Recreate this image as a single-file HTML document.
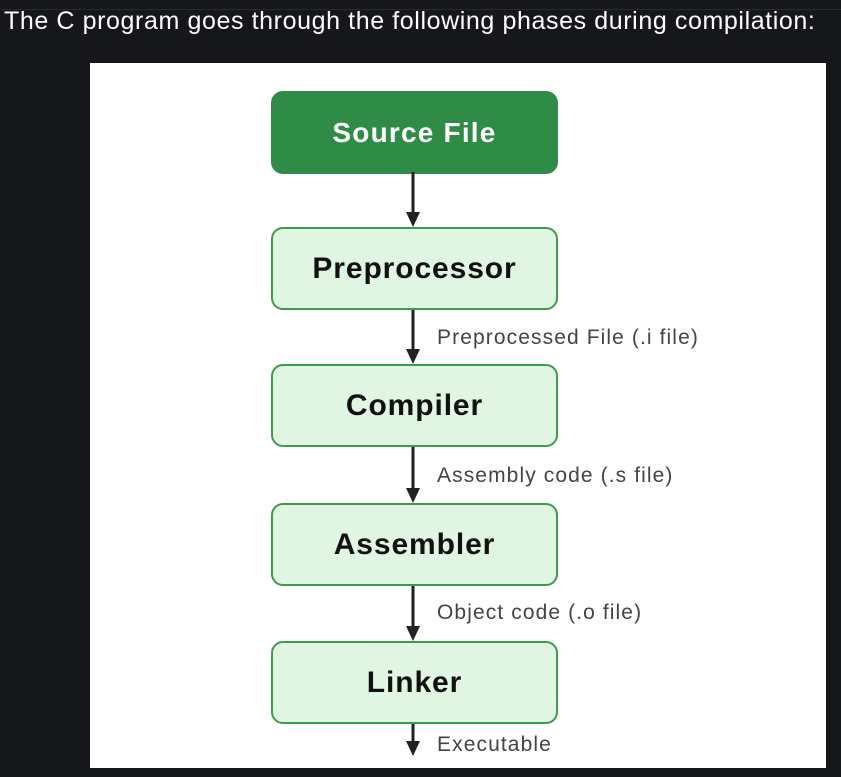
<!DOCTYPE html>
<html><head><style>
body{margin:0;width:841px;height:777px;background:#16171b;position:relative;overflow:hidden;font-family:"Liberation Sans",sans-serif}
.title{position:absolute;left:4px;top:7px;color:#fff;font-size:25px;letter-spacing:0.6px}
.topline{position:absolute;left:0;top:9px;width:841px;height:1px;background:#2a2b30}
.panel{position:absolute;left:90px;top:63px;width:736px;height:705px;background:#fff}
.box{position:absolute;left:271px;width:283px;height:79px;border:2px solid #3e9a4c;background:#e1f5e3;border-radius:12px;display:flex;align-items:center;justify-content:center;font-weight:bold;font-size:30px;letter-spacing:0.9px;color:#111}
.src{background:#2f8c47;border-color:#2f8c47;color:#fff;font-size:28px;letter-spacing:1.2px}
.lbl{position:absolute;left:437px;font-size:21px;letter-spacing:1.1px;color:#444}
</style></head><body>
<div class="topline"></div>
<div class="title">The C program goes through the following phases during compilation:</div>
<div class="panel"></div>
<div class="box src" style="top:91px">Source File</div>
<div class="box" style="top:227px">Preprocessor</div>
<div class="box" style="top:364px">Compiler</div>
<div class="box" style="top:503px">Assembler</div>
<div class="box" style="top:641px">Linker</div>
<svg width="841" height="777" style="position:absolute;left:0;top:0">
<g stroke="#222" stroke-width="3" fill="#222">
<line x1="413" y1="172" x2="413" y2="215"/><polygon points="406,212 420,212 413,227" stroke="none"/>
<line x1="413" y1="310" x2="413" y2="352"/><polygon points="406,349 420,349 413,364" stroke="none"/>
<line x1="413" y1="447" x2="413" y2="491"/><polygon points="406,488 420,488 413,503" stroke="none"/>
<line x1="413" y1="586" x2="413" y2="629"/><polygon points="406,626 420,626 413,641" stroke="none"/>
<line x1="413" y1="724" x2="413" y2="744"/><polygon points="406,741 420,741 413,756" stroke="none"/>
</g></svg>
<div class="lbl" style="top:326px">Preprocessed File (.i file)</div>
<div class="lbl" style="top:464px">Assembly code (.s file)</div>
<div class="lbl" style="top:601px">Object code (.o file)</div>
<div class="lbl" style="top:733px">Executable</div>
</body></html>
